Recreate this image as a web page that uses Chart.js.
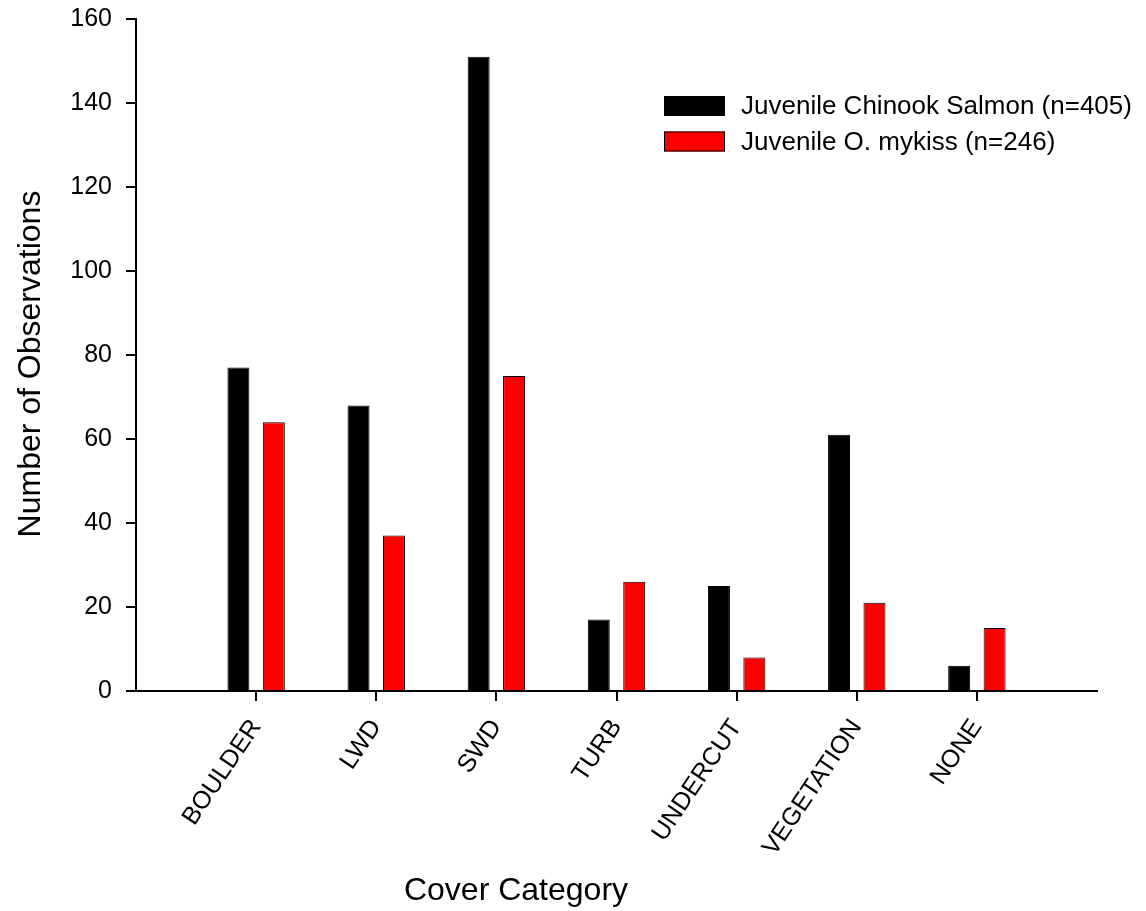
<!DOCTYPE html>
<html>
<head>
<meta charset="utf-8">
<title>Fish observations by cover category</title>
<script src="https://cdn.jsdelivr.net/npm/chart.js@4/dist/chart.umd.min.js"></script>
<style>
  html, body { margin: 0; padding: 0; background: #ffffff; }
  canvas { display: block; }
</style>
</head>
<body>
<canvas id="chart" width="1146" height="911"></canvas>
<script>
// Cover categories along the x axis
const categories = ['BOULDER', 'LWD', 'SWD', 'TURB', 'UNDERCUT', 'VEGETATION', 'NONE'];

// Number of observations per cover category
const chinookLabel = 'Juvenile Chinook Salmon (n=405)';
const chinookCounts = [77, 68, 151, 17, 25, 61, 6];

const mykissLabel = 'Juvenile O. mykiss (n=246)';
const mykissCounts = [64, 37, 75, 26, 8, 21, 15];

// Y axis ticks
const yTicks = [0, 20, 40, 60, 80, 100, 120, 140, 160];

const xTitle = 'Cover Category';
const yTitle = 'Number of Observations';

const FONT = '"Liberation Sans", Arial, Helvetica, sans-serif';

// One empty slot on each side so the categories sit inside the axis span
const labels = [''].concat(categories, ['']);
const pad = arr => [null].concat(arr, [null]);
const lastIndex = labels.length - 1;

// Draws the inset legend and both axis titles
const annotations = {
  id: 'annotations',
  afterDraw(chart) {
    const ctx = chart.ctx;
    ctx.save();

    // legend
    ctx.font = '26px ' + FONT;
    ctx.textBaseline = 'middle';
    ctx.textAlign = 'left';
    chart.data.datasets.forEach((ds, i) => {
      const bx = 664, by = 96 + i * 35.5, bw = 61, bh = 20;
      ctx.fillStyle = ds.backgroundColor;
      ctx.fillRect(bx, by, bw, bh);
      ctx.lineWidth = 1;
      ctx.strokeStyle = '#000000';
      ctx.strokeRect(bx + 0.5, by + 0.5, bw - 1, bh - 1);
      ctx.fillStyle = '#000000';
      ctx.fillText(ds.label, 741, by + bh / 2 + 1);
    });

    // axis titles
    ctx.font = '32px ' + FONT;
    ctx.fillStyle = '#000000';
    ctx.textAlign = 'center';
    ctx.textBaseline = 'middle';
    ctx.fillText(xTitle, 516, 891);

    ctx.translate(31, 364);
    ctx.rotate(-Math.PI / 2);
    ctx.fillText(yTitle, 0, 0);
    ctx.restore();
  }
};

new Chart(document.getElementById('chart'), {
  type: 'bar',
  data: {
    labels: labels,
    datasets: [
      {
        label: chinookLabel,
        data: pad(chinookCounts),
        backgroundColor: '#000000',
        borderColor: '#000000',
        borderWidth: 1
      },
      {
        label: mykissLabel,
        data: pad(mykissCounts),
        backgroundColor: '#ff0000',
        borderColor: '#000000',
        borderWidth: 1
      }
    ]
  },
  options: {
    responsive: false,
    animation: false,
    devicePixelRatio: 1,
    categoryPercentage: 0.59,
    barPercentage: 0.62,
    layout: { padding: { left: 0, top: 19, right: 49, bottom: 0 } },
    plugins: {
      legend: { display: false },
      tooltip: { enabled: false },
      title: { display: false }
    },
    scales: {
      x: {
        type: 'category',
        offset: false,
        afterFit: scale => { scale.height = 220; },
        grid: {
          offset: false,
          drawOnChartArea: false,
          drawTicks: true,
          tickLength: 10,
          lineWidth: 2,
          tickColor: c => (c.index === 0 || c.index === lastIndex) ? 'rgba(0,0,0,0)' : '#000000'
        },
        border: { display: true, color: '#000000', width: 2 },
        ticks: {
          autoSkip: false,
          minRotation: 56,
          maxRotation: 56,
          padding: 13,
          color: '#000000',
          font: { family: FONT, size: 25 }
        }
      },
      y: {
        min: 0,
        max: 160,
        afterFit: scale => {
          scale.width = 136;
          scale.paddingTop = 10;
          scale.paddingBottom = 10;
        },
        afterBuildTicks: scale => { scale.ticks = yTicks.map(v => ({ value: v })); },
        grid: {
          drawOnChartArea: false,
          drawTicks: true,
          tickLength: 10,
          lineWidth: 2,
          tickColor: '#000000'
        },
        border: { display: true, color: '#000000', width: 2 },
        ticks: {
          padding: 14,
          color: '#000000',
          font: { family: FONT, size: 25 }
        }
      }
    }
  },
  plugins: [annotations]
});
</script>
</body>
</html>
